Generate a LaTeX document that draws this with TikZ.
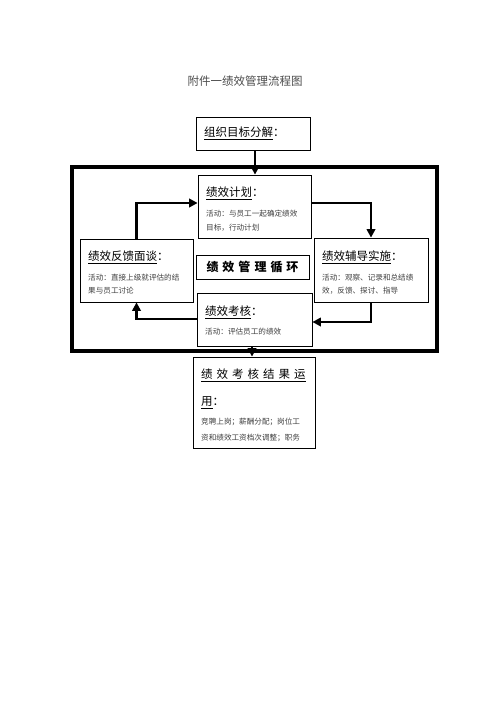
\documentclass[tikz,border=0pt]{standalone}
\usepackage{fontspec}
\newfontfamily\cjk{Noto Sans CJK SC}
\usetikzlibrary{arrows.meta}
\begin{document}
\begin{tikzpicture}[x=1pt,y=-1pt,
  box/.style={draw=black,line width=0.8pt,fill=white,inner sep=0pt},
  ttl/.style={anchor=west,inner sep=0pt,font=\cjk\fontsize{11.5}{12}\selectfont},
  body/.style={anchor=west,inner sep=0pt,text=black!75,font=\cjk\fontsize{7.6}{9}\selectfont},
  flow/.style={line width=2.6pt,-{Triangle[length=8.5pt,width=8.5pt]}},
]
\useasboundingbox (0,0) rectangle (503,711);
\fill[white] (0,0) rectangle (503,711);
\node[inner sep=0pt,text=black!70,font=\cjk\fontsize{11.5}{13}\selectfont] (title) at (245,81) {附件一绩效管理流程图};
% frame
\draw[line width=3.5pt] (72,167) rectangle (437,351);
% boxes
\node[box,minimum width=114pt,minimum height=33pt] (goal) at (253,133.5) {};
\node[box,minimum width=113pt,minimum height=63pt] (plan) at (254.5,206.5) {};
\node[box,minimum width=113pt,minimum height=63pt] (fb) at (136.5,270.5) {};
\node[box,minimum width=114pt,minimum height=64pt] (coach) at (371,270) {};
\node[box,minimum width=113pt,minimum height=24pt] (cycle) at (252.5,267) {};
\node[box,minimum width=115pt,minimum height=53pt] (eval) at (254.5,319.5) {};
\node[box,minimum width=122pt,minimum height=91pt] (res) at (254,402.5) {};
% texts
\node[ttl] (goalt) at (204,133) {\underline{组织目标分解}：};
\node[ttl] (plant) at (206,193) {\underline{绩效计划}：};
\node[body] (planb1) at (206,214) {活动：与员工一起确定绩效};
\node[body] (planb2) at (206,228) {目标，行动计划};
\node[ttl] (fbt) at (88,257) {\underline{绩效反馈面谈}：};
\node[body] (fbb1) at (88,278) {活动：直接上级就评估的结};
\node[body] (fbb2) at (88,291) {果与员工讨论};
\node[ttl] (coacht) at (322,257) {\underline{绩效辅导实施}：};
\node[body] (coachb1) at (322,278) {活动：观察、记录和总结绩};
\node[body] (coachb2) at (322,291) {效，反馈、探讨、指导};
\node[inner sep=0pt,font=\cjk\bfseries\fontsize{12}{13}\selectfont] (cyclet) at (cycle.center) {绩\hspace{4pt}效\hspace{4pt}管\hspace{4pt}理\hspace{4pt}循\hspace{4pt}环};
\node[ttl] (evalt) at (205,312) {\underline{绩效考核}：};
\node[body] (evalb) at (205,332) {活动：评估员工的绩效};
\node[ttl] (rest1) at (201,375) {\underline{绩\hspace{4pt}效\hspace{4pt}考\hspace{4pt}核\hspace{4pt}结\hspace{4pt}果\hspace{4pt}运}};
\node[ttl] (rest2) at (201,403) {\underline{用}：};
\node[body] (resb1) at (201,422) {竞聘上岗；薪酬分配；岗位工};
\node[body] (resb2) at (201,438) {资和绩效工资档次调整；职务};
% connectors
\draw[flow] (goal.south -| 255,0) -- (plan.north -| 255,0);
\draw[flow] (plan.east |- 0,203) -| (coach.north);
\draw[flow] (coach.south) |- (eval.east |- 0,322);
\draw[flow] (eval.west |- 0,319) -| (fb.south);
\draw[flow] (fb.north) |- (plan.west |- 0,203);
\draw[flow] (eval.south -| 252,0) -- (res.north -| 252,0);
\end{tikzpicture}
\end{document}
